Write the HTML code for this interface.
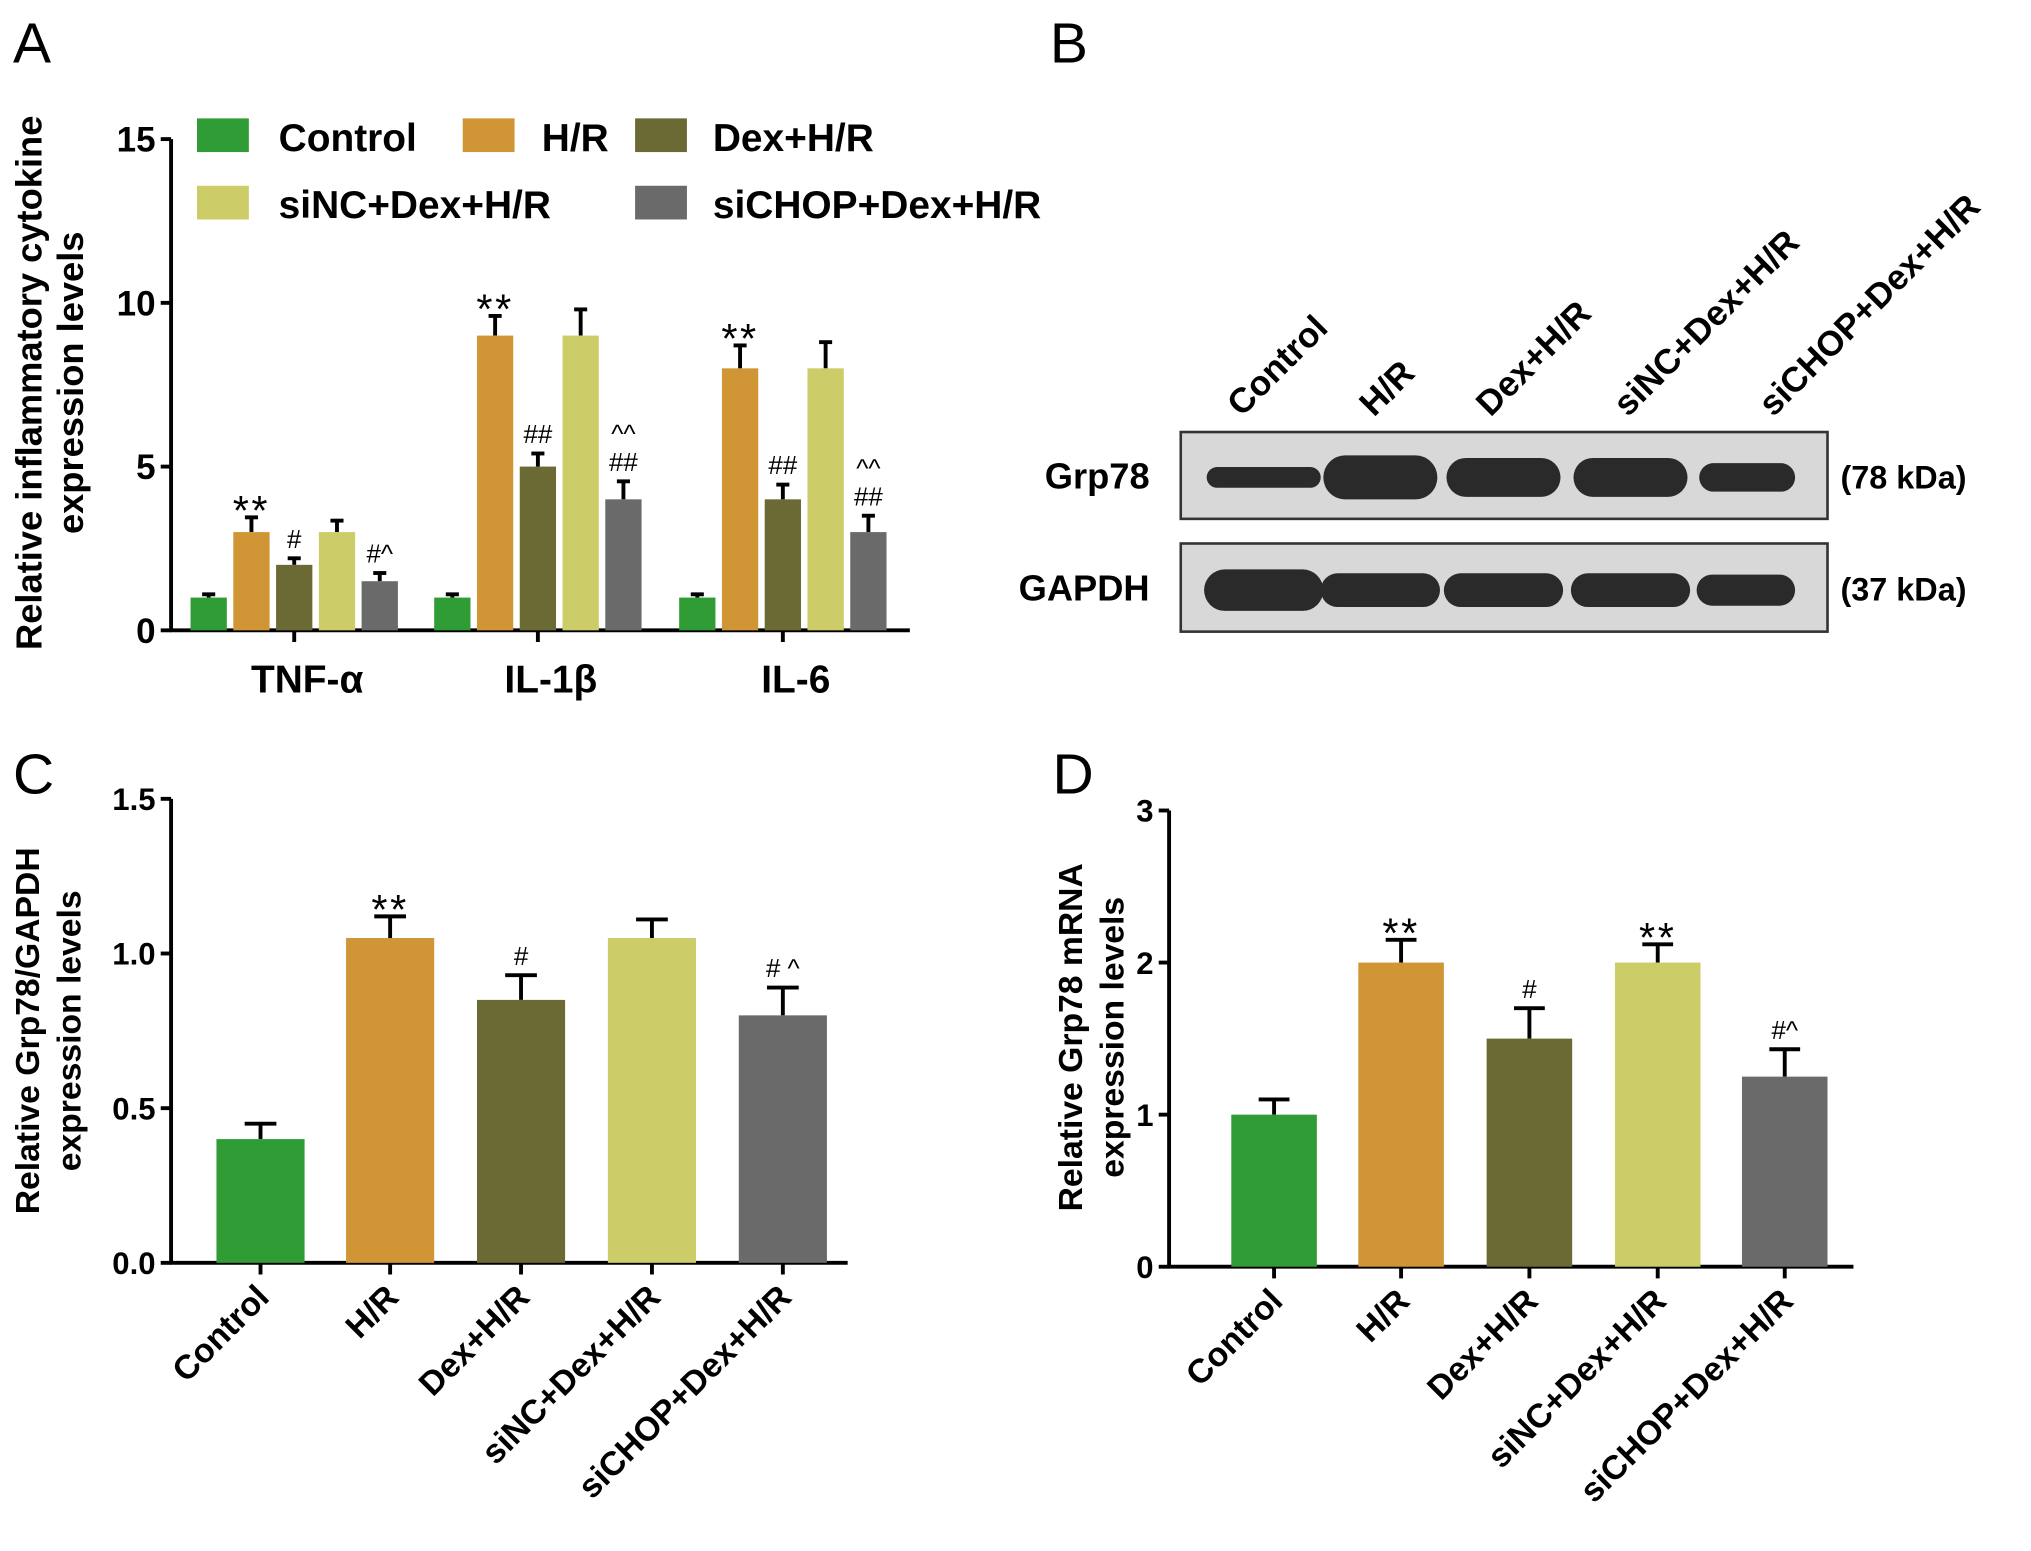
<!DOCTYPE html>
<html><head><meta charset="utf-8"><style>
html,body{margin:0;padding:0;background:#fff;}
svg{display:block;font-family:"Liberation Sans",Arial,sans-serif;}
</style></head><body>
<svg id="fig" width="2031" height="1551" viewBox="0 0 1567 1196" xmlns="http://www.w3.org/2000/svg">
<rect width="1567" height="1196" fill="#fff"/>
<text x="10" y="48" font-size="44">A</text>
<text x="810" y="48" font-size="44">B</text>
<text x="10" y="612" font-size="44">C</text>
<text x="812" y="612" font-size="44">D</text>
<g id="A"></g>
<g id="B"></g>
<g id="C"></g>
<g id="D"></g>
</svg>
<script>
const groups=["Control","H/R","Dex+H/R","siNC+Dex+H/R","siCHOP+Dex+H/R"];
const colors=["#2f9c35","#d09535","#6b6a35","#cccc68","#6a6a6a"];
const cytokines=["TNF-α","IL-1β","IL-6"];
const aValues=[[1,3,2,3,1.5],[1,9,5,9,4],[1,8,4,8,3]];
const aErrors=[[0.1,0.45,0.2,0.35,0.25],[0.1,0.6,0.4,0.8,0.55],[0.1,0.7,0.45,0.8,0.5]];
const aMarks=[["","**","#","","#^"],["","**","##","","^^\n##"],["","**","##","","^^\n##"]];
const aTicks=[0,5,10,15];
const cValues=[0.4,1.05,0.85,1.05,0.8];
const cErrors=[0.05,0.07,0.08,0.06,0.09];
const cMarks=["","**","#","","# ^"];
const cTicks=[0,0.5,1.0,1.5];
const dValues=[1,2,1.5,2,1.25];
const dErrors=[0.1,0.15,0.2,0.12,0.18];
const dMarks=["","**","#","**","#^"];
const dTicks=[0,1,2,3];
const NS="http://www.w3.org/2000/svg";
function mk(p,tag,at,txt){const e=document.createElementNS(NS,tag);for(const k in at)e.setAttribute(k,at[k]);if(txt!==undefined)e.textContent=txt;p.appendChild(e);return e;}

function axisY(g,x0,y0,yTop,xEnd,ticks,max,fmt,fs){
  const sy=v=>y0-(v/max)*(y0-yTop);
  const ax=mk(g,"line",{x1:x0,y1:y0+1,x2:x0,y2:yTop,stroke:"#000","stroke-width":3});
  
  
  const xa=mk(g,"line",{x1:x0-1,y1:y0,x2:xEnd,y2:y0,stroke:"#000","stroke-width":3});
  
  
  ticks.forEach(t=>{
    mk(g,"line",{x1:x0-8,y1:sy(t),x2:x0,y2:sy(t),stroke:"#000","stroke-width":3});
    const tl=mk(g,"text",{x:x0-12,y:sy(t)+fs*0.36,"font-size":fs,"font-weight":"bold","text-anchor":"end"},fmt(t));
    
    
  });
  return sy;
}
function bar(g,cx,w,v,e,sy,y0,col,mark,mfs){
  const yv=sy(v),ye=sy(v+e);
  mk(g,"line",{x1:cx,y1:yv,x2:cx,y2:ye,stroke:"#000","stroke-width":3});
  mk(g,"line",{x1:cx-w*0.18,y1:ye,x2:cx+w*0.18,y2:ye,stroke:"#000","stroke-width":3});
  const r=mk(g,"rect",{x:cx-w/2,y:yv,width:w,height:y0-yv,fill:col});
  
  
  if(mark){
    const lines=mark.split("\n");
    lines.forEach((ln,i)=>{
      const star=ln.includes("*");
      const t=mk(g,"text",{x:cx,y:ye-(star?0:8)-(lines.length-1-i)*22+(star?6:0),"font-size":star?mfs+12:mfs,"text-anchor":"middle","letter-spacing":star?"2":"0"},ln);
      
      
    });
  }
}
function ylab(g,x,y,lines,fs){
  lines.forEach((l,i)=>{
    const t=mk(g,"text",{x:0,y:0,"font-size":fs,"font-weight":"bold","text-anchor":"middle",transform:`translate(${x+i*32},${y}) rotate(-90)`},l);
    
    
  });
}
// Panel A
(function(){
  const g=document.getElementById("A");
  const y0=486,yTop=107;
  const sy=axisY(g,132,y0,yTop,702,aTicks,15,t=>String(t),27);
  const centers=[227,415,604];
  cytokines.forEach((c,gi)=>{
    mk(g,"line",{x1:centers[gi],y1:y0,x2:centers[gi],y2:y0+9,stroke:"#000","stroke-width":3});
    const t=mk(g,"text",{x:centers[gi]+10,y:y0+48,"font-size":30,"font-weight":"bold","text-anchor":"middle"},c);
    
    
    groups.forEach((gr,i)=>bar(g,centers[gi]+(i-2)*33,28,aValues[gi][i],aErrors[gi][i],sy,y0,colors[i],aMarks[gi][i],20));
  });
  ylab(g,32,295,["Relative inflammatory cytokine","expression levels"],28);
  const leg=[[152,105,0],[357,105,1],[490,105,2],[152,157,3],[490,157,4]];
  const legx=[215,418,550,215,550];
  leg.forEach((l,i)=>{
    const r=mk(g,"rect",{x:l[0],y:l[1]-14,width:40,height:26,fill:colors[i]});
    
    
    const t=mk(g,"text",{x:legx[i],y:l[1]+11,"font-size":30,"font-weight":"bold"},groups[i]);
    
    
  });
})();
// Panel B blot
(function(){
  const g=document.getElementById("B");
  const labX=[958,1060,1150,1256,1368];
  groups.forEach((gr,i)=>{
    const t=mk(g,"text",{x:0,y:0,"font-size":27,"font-weight":"bold","text-anchor":"start",transform:`translate(${labX[i]},${322}) rotate(-45)`},gr);
    
    
  });
  [[333,400,"Grp78","(78 kDa)"],[419,487,"GAPDH","(37 kDa)"]].forEach((b,bi)=>{
    const r=mk(g,"rect",{x:911,y:b[0],width:499,height:b[1]-b[0],fill:"#d8d8d8",stroke:"#333","stroke-width":2});
    
    
    const l=mk(g,"text",{x:887,y:(b[0]+b[1])/2+10,"font-size":28,"font-weight":"bold","text-anchor":"end"},b[2]);
    
    
    const k=mk(g,"text",{x:1420,y:(b[0]+b[1])/2+10,"font-size":25,"font-weight":"bold"},b[3]);
    
    
  });
  const bx=[975,1065,1160,1258,1347];
  const grpH=[8,17,15,15,11];
  const gapH=[16,13,13,13,12];
  bx.forEach((x,i)=>{
    const b1=mk(g,"rect",{x:x-44+(i==4?8:0),y:368-grpH[i],width:(i==4?74:88),height:grpH[i]*2,rx:grpH[i],fill:"#2a2a2a"});
    
    
    const b2=mk(g,"rect",{x:x-46+(i==4?8:0),y:455-gapH[i],width:(i==4?76:92),height:gapH[i]*2,rx:gapH[i],fill:"#2a2a2a"});
    
    
  });
})();
function single(id,x0,y0,yTop,xEnd,ticks,max,fmt,centers,w,vals,errs,marks,ylines,ylx,yly){
  const g=document.getElementById(id);
  const sy=axisY(g,x0,y0,yTop,xEnd,ticks,max,fmt,24);
  groups.forEach((gr,i)=>{
    mk(g,"line",{x1:centers[i],y1:y0,x2:centers[i],y2:y0+9,stroke:"#000","stroke-width":3});
    bar(g,centers[i],w,vals[i],errs[i],sy,y0,colors[i],marks[i],20);
    const t=mk(g,"text",{x:0,y:0,"font-size":26,"font-weight":"bold","text-anchor":"end",transform:`translate(${centers[i]+8},${y0+28}) rotate(-45)`},gr);
    
    
  });
  ylab(g,ylx,yly,ylines,26);
}
single("C",132,974,616,654,cTicks,1.5,t=>t.toFixed(1),[201,301,402,503,604],68,cValues,cErrors,cMarks,["Relative Grp78/GAPDH","expression levels"],30,795);
single("D",902,977,625,1430,dTicks,3,t=>String(t),[983,1081,1180,1279,1377],66,dValues,dErrors,dMarks,["Relative Grp78 mRNA","expression levels"],835,800);
</script>
</body></html>
